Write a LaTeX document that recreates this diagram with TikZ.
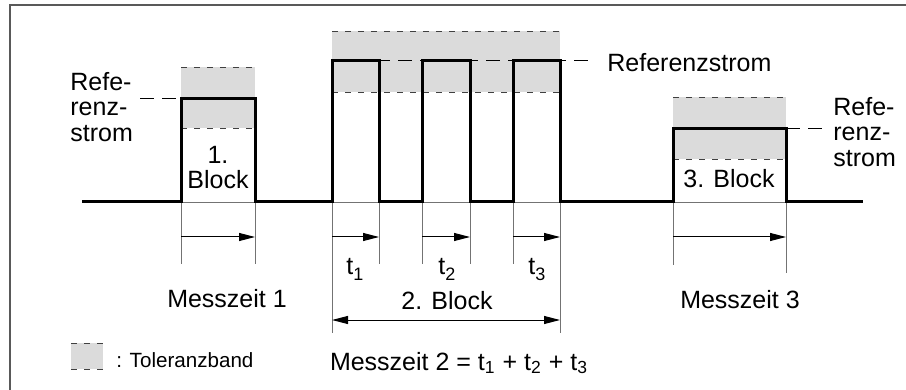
\documentclass[tikz,border=0pt]{standalone}
\usepackage{fontspec}
\setmainfont{Liberation Sans}
\usetikzlibrary{arrows.meta}

\newcommand\tidx[1]{t\raisebox{-2.6pt}{\fontsize{9}{9}\selectfont #1}}

\tikzset{
  frame/.style={draw=black!65, line width=0.6pt},
  band/.style={fill=black!14},
  bandedge/.style={draw=black!75, line width=0.45pt, dash pattern=on 3pt off 3.5pt},
  refline/.style={line width=0.5pt, dash pattern=on 7pt off 4pt},
  tick/.style={draw=black!55, line width=0.45pt},
  sig/.style={line width=1.5pt, line join=miter},
  dim/.style={line width=0.5pt, -{Triangle[length=8pt,width=4pt]}},
  dimboth/.style={line width=0.5pt, {Triangle[length=8pt,width=4pt]}-{Triangle[length=8pt,width=4pt]}},
  txt/.style={font=\fontsize{12.5}{12.75}\selectfont, inner sep=0pt},
  smalltxt/.style={font=\fontsize{10.3}{12}\selectfont, inner sep=0pt}
}

\begin{document}
\begin{tikzpicture}[x=0.5pt, y=-0.5pt]
  \useasboundingbox (0,0) rectangle (906,390);
  \draw[frame] (10,390) -- (10,5) -- (906,5);

  % Toleranzbaender
  \foreach \xa/\xb/\ya/\yb in {181/255/67/128, 332/560/31/92, 673/786/97/159}
  {
    \fill[band] (\xa,\ya) rectangle (\xb,\yb);
    \draw[bandedge] (\xa,\ya) -- (\xb,\ya);
    \draw[bandedge] (\xa,\yb) -- (\xb,\yb);
  }

  % Referenzstrom
  \draw[refline] (140,99) -- (181,99);
  \draw[refline] (332,61) -- (593,61);
  \draw[refline] (786,129) -- (823,129);

  % Hilfslinien
  \foreach \xa/\xb in {181/255, 332/379, 422/470, 513/560, 673/786}
    \draw[tick] (\xa,202) -- (\xb,202);
  \foreach \x/\y in {181/264, 255/264, 332/333, 379/264, 422/264, 470/264, 513/264, 560/333, 673/265, 786/273}
    \draw[tick] (\x,202) -- (\x,\y);

  % Signal
  \draw[sig] (82,202) -- (181,202) -- (181,99) -- (255,99) -- (255,202)
    -- (332,202) -- (332,61) -- (379,61) -- (379,202)
    -- (422,202) -- (422,61) -- (470,61) -- (470,202)
    -- (513,202) -- (513,61) -- (560,61) -- (560,202)
    -- (673,202) -- (673,129) -- (786,129) -- (786,202) -- (863,202);

  % Messzeiten
  \foreach \xa/\xb in {181/255, 332/379, 422/470, 513/560, 673/786}
    \draw[dim] (\xa,237) -- (\xb,237);
  \draw[dimboth] (332,320) -- (560,320);

  % Beschriftung
  \node[txt, align=left, anchor=north west] (refLinks) at (70,72) {Refe-\\renz-\\strom};
  \node[txt, anchor=base west] (refMitte) at (607,72) {Referenzstrom};
  \node[txt, align=left, anchor=north west] (refRechts) at (833,97) {Refe-\\renz-\\strom};
  \node[txt, align=center] (block1) at (218,167.5) {1.\\Block};
  \node[txt, anchor=base] (block3) at (729,188) {3. Block};
  \node[txt, anchor=base] (block2) at (447,309) {2. Block};
  \node[txt, anchor=base west] (zeit1) at (346,275) {\tidx{1}};
  \node[txt, anchor=base west] (zeit2) at (438,275) {\tidx{2}};
  \node[txt, anchor=base west] (zeit3) at (528,275) {\tidx{3}};
  \node[txt, anchor=base] (mess1) at (227,307) {Messzeit 1};
  \node[txt, anchor=base] (mess3) at (740,308) {Messzeit 3};
  \node[txt, anchor=base] (mess2) at (459,370)
    {Messzeit 2 = t\textsubscript{1} + t\textsubscript{2} + t\textsubscript{3}};

  % Legende
  \fill[band] (71,343) rectangle (103,369);
  \draw[bandedge] (71,343) -- (103,343);
  \draw[bandedge] (71,369) -- (103,369);
  \node[smalltxt, anchor=base west] (legende) at (116,367) {: Toleranzband};
\end{tikzpicture}
\end{document}
